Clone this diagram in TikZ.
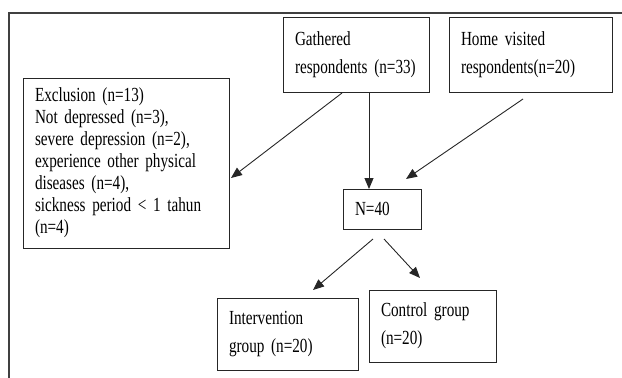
\documentclass[tikz,border=0pt]{standalone}
\usepackage{fontspec}
\setmainfont{Liberation Serif}[FakeStretch=0.76]
\usetikzlibrary{arrows.meta,calc}
\begin{document}
\begin{tikzpicture}[x=1pt,y=-1pt,
  box/.style={draw=black!85, line width=0.9pt, align=left, inner xsep=12pt, inner ysep=0pt, outer sep=0pt,
    font=\fontsize{20}{22}\selectfont},
  conn/.style={draw=black!85, line width=0.9pt, -{Triangle[length=11pt,width=9pt]}}]
\useasboundingbox (0,0) rectangle (622,378);
\draw[black!75, line width=1.4pt] (9,378) -- (9,13) -- (622,13);

\node[box, minimum width=146pt, minimum height=75pt, text width=122pt] (gath) at (356,54.5)
  {Gathered\\[6pt]respondents (n=33)};
\node[box, minimum width=163pt, minimum height=75pt, text width=139pt] (home) at (530.5,54.5)
  {Home visited\\[6pt]respondents(n=20)};
\node[box, minimum width=206pt, minimum height=170pt, text width=182pt] (excl) at (126,163)
  {Exclusion (n=13)\\Not depressed (n=3),\\severe depression (n=2),\\experience other physical\\diseases (n=4),\\sickness period < 1 tahun\\(n=4)};
\node[box, minimum width=78pt, minimum height=40pt, text width=54pt] (n40) at (382,209) {N=40};
\node[box, minimum width=141pt, minimum height=72pt, text width=117pt] (interv) at (287.5,334)
  {Intervention\\[6pt]group (n=20)};
\node[box, minimum width=127pt, minimum height=72pt, text width=103pt] (ctrl) at (432.5,326)
  {Control group\\[6pt](n=20)};

\coordinate (vend) at ($(n40.north)+(-13,0)$);
\draw[conn] ($(gath.south west)+(59,1)$) -- ($(excl.east)+(2,15)$);
\draw[conn] (vend |- gath.south) -- (vend);
\draw[conn] ($(home.south west)+(74,7)$) -- ($(n40.north east)+(-15,-10)$);
\draw[conn] ($(n40.south)+(-9,10)$) -- ($(interv.north east)+(-45,-8)$);
\draw[conn] ($(n40.south)+(2,10)$) -- ($(ctrl.north west)+(51,-12)$);
\end{tikzpicture}
\end{document}
